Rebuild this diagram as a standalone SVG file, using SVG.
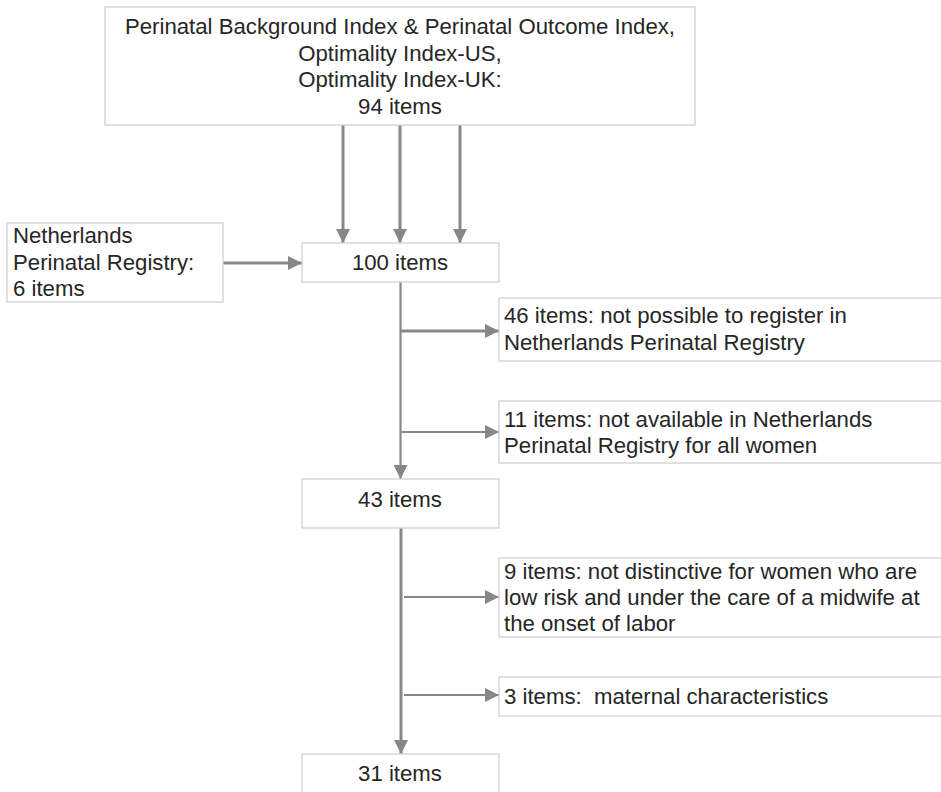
<svg xmlns="http://www.w3.org/2000/svg" width="941" height="792" viewBox="0 0 941 792">
<defs>
<style>
.box{fill:#ffffff;stroke:#d2d2d2;stroke-width:1.3}
.t{font-family:"Liberation Sans",Arial,sans-serif;font-size:22.2px;fill:#262626;white-space:pre}
.c{text-anchor:middle}
.ln{stroke:#878787;stroke-width:3;fill:none}
.ln2{stroke:#878787;stroke-width:2.2;fill:none}
</style>
<marker id="ah" markerUnits="userSpaceOnUse" markerWidth="14" markerHeight="14" viewBox="0 0 14 14" refX="14" refY="7" orient="auto">
<path d="M0,0 L14,7 L0,14 Z" fill="#878787"/>
</marker>
</defs>
<rect width="941" height="792" fill="#ffffff"/>
<g id="connectors">
<line class="ln" x1="343" y1="125" x2="343" y2="243" marker-end="url(#ah)"/>
<line class="ln" x1="400" y1="125" x2="400" y2="243" marker-end="url(#ah)"/>
<line class="ln" x1="460" y1="125" x2="460" y2="243" marker-end="url(#ah)"/>
<line class="ln" x1="223" y1="263" x2="302" y2="263" marker-end="url(#ah)"/>
<line class="ln2" x1="400.5" y1="282" x2="400.5" y2="479" marker-end="url(#ah)"/>
<line class="ln" x1="400.5" y1="331" x2="499" y2="331" marker-end="url(#ah)"/>
<line class="ln2" x1="400.5" y1="432" x2="499" y2="432" marker-end="url(#ah)"/>
<line class="ln" x1="401" y1="528" x2="401" y2="754" marker-end="url(#ah)"/>
<line class="ln2" x1="404" y1="597" x2="499" y2="597" marker-end="url(#ah)"/>
<line class="ln2" x1="404" y1="695" x2="499" y2="695" marker-end="url(#ah)"/>
</g>
<g id="n-top">
<rect class="box" x="105" y="7" width="590" height="118"/>
<text class="t c" x="400" y="34">Perinatal Background Index &amp; Perinatal Outcome Index,</text>
<text class="t c" x="400" y="61">Optimality Index-US,</text>
<text class="t c" x="400" y="87">Optimality Index-UK:</text>
<text class="t c" x="400" y="114">94 items</text>
</g>
<g id="n-nl">
<rect class="box" x="7" y="223" width="216" height="79"/>
<text class="t" x="13" y="243">Netherlands</text>
<text class="t" x="13" y="270">Perinatal Registry:</text>
<text class="t" x="13" y="296">6 items</text>
</g>
<g id="n-100">
<rect class="box" x="302" y="243" width="197" height="39"/>
<text class="t c" x="400" y="270">100 items</text>
</g>
<g id="n-46">
<rect class="box" x="499" y="298" width="445" height="63"/>
<text class="t" x="504" y="323">46 items: not possible to register in</text>
<text class="t" x="504" y="350">Netherlands Perinatal Registry</text>
</g>
<g id="n-11">
<rect class="box" x="499" y="401" width="445" height="62"/>
<text class="t" x="504" y="427">11 items: not available in Netherlands</text>
<text class="t" x="504" y="453">Perinatal Registry for all women</text>
</g>
<g id="n-43">
<rect class="box" x="302" y="479" width="197" height="49"/>
<text class="t c" x="400" y="507">43 items</text>
</g>
<g id="n-9">
<rect class="box" x="499" y="558" width="445" height="79"/>
<text class="t" x="504" y="579">9 items: not distinctive for women who are</text>
<text class="t" x="504" y="605">low risk and under the care of a midwife at</text>
<text class="t" x="504" y="631">the onset of labor</text>
</g>
<g id="n-3">
<rect class="box" x="499" y="677" width="445" height="39"/>
<text class="t" x="504" y="704" xml:space="preserve">3 items:  maternal characteristics</text>
</g>
<g id="n-31">
<rect class="box" x="302" y="754" width="197" height="45"/>
<text class="t c" x="400" y="781">31 items</text>
</g>
</svg>
